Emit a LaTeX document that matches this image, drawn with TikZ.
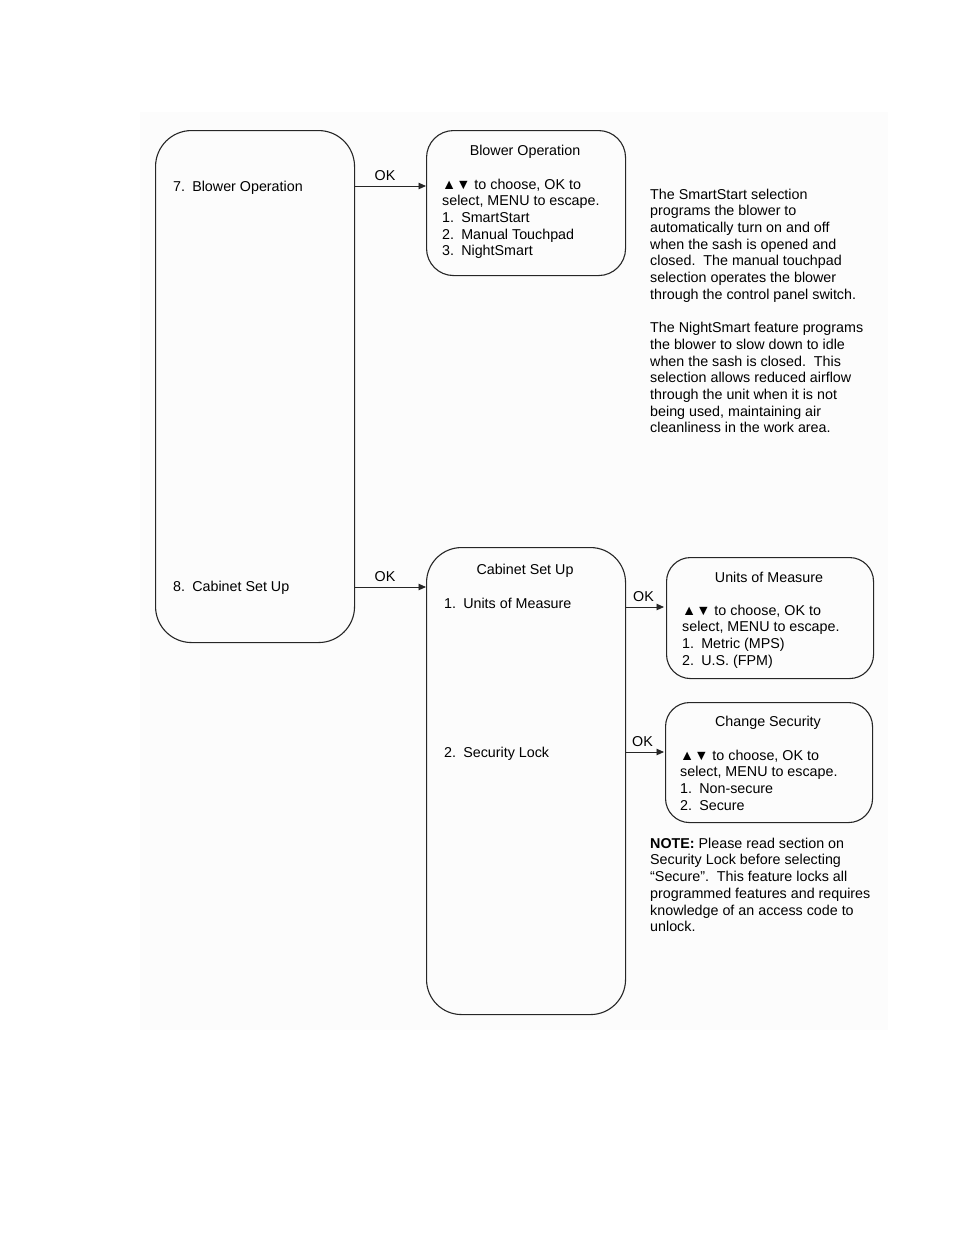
\documentclass[tikz,border=0pt]{standalone}
\usepackage{fontspec}
\setmainfont{Liberation Sans}
\usetikzlibrary{arrows.meta}
\newcommand\nsp{\hspace{0.5em}}
\begin{document}
\begin{tikzpicture}[x=1pt,y=-1pt,
  box/.style={draw=black!85, line width=1.1pt, rounded corners=#1, inner sep=0pt, anchor=north west},
  box/.default=22pt,
  txt/.style={font=\fontsize{14.3}{16.7}\selectfont, inner sep=0pt, align=left, anchor=north west},
  ttl/.style={font=\fontsize{14.3}{16.7}\selectfont, inner sep=0pt, anchor=base},
  arr/.style={-{Triangle[length=7.5pt,width=6.5pt]}, line width=0.9pt, draw=black!85},
  lbl/.style={font=\fontsize{14.3}{16.7}\selectfont, inner sep=0pt, above=5pt}]
\useasboundingbox (0,0) rectangle (954,1235);
\fill[black!1] (140,112) rectangle (888,1030);

% boxes
\node[box=36pt, minimum width=199pt, minimum height=512pt] (menu) at (155,130) {};
\node[box=27pt, minimum width=199pt, minimum height=145pt] (blower) at (426,130) {};
\node[box=35pt, minimum width=199pt, minimum height=467pt] (cabinet) at (426,547) {};
\node[box=24pt, minimum width=207pt, minimum height=121pt] (units) at (666,557) {};
\node[box=24pt, minimum width=207pt, minimum height=120pt] (security) at (665,702) {};

% texts in left box
\node[ttl, anchor=base west] (t7) at (173,191) {7.\nsp Blower Operation};
\node[ttl, anchor=base west] (t8) at (173,591) {8.\nsp Cabinet Set Up};

% blower box
\node[ttl] (blowtitle) at (525,155) {Blower Operation};
\node[txt] (blowtext) at (442,177.3) {\strut▲▼ to choose, OK to\\select, MENU to escape.\\1.\nsp SmartStart\\2.\nsp Manual Touchpad\\3.\nsp NightSmart};

% cabinet box
\node[ttl] (cabtitle) at (525,574) {Cabinet Set Up};
\node[ttl, anchor=base west] (cab1) at (444,608) {1.\nsp Units of Measure};
\node[ttl, anchor=base west] (cab2) at (444,757) {2.\nsp Security Lock};

% units box
\node[ttl] (unitstitle) at (769,582) {Units of Measure};
\node[txt] (unitstext) at (682,603.3) {\strut▲▼ to choose, OK to\\select, MENU to escape.\\1.\nsp Metric (MPS)\\2.\nsp U.S. (FPM)};

% security box
\node[ttl] (sectitle) at (768,726) {Change Security};
\node[txt] (sectext) at (680,748.3) {\strut▲▼ to choose, OK to\\select, MENU to escape.\\1.\nsp Non-secure\\2.\nsp Secure};

% explanatory texts
\node[txt] (expl) at (650,187.3) {\strut The SmartStart selection\\programs the blower to\\automatically turn on and off\\when the sash is opened and\\closed.\ \ The manual touchpad\\selection operates the blower\\through the control panel switch.\\[16.7pt]The NightSmart feature programs\\the blower to slow down to idle\\when the sash is closed.\ \ This\\selection allows reduced airflow\\through the unit when it is not\\being used, maintaining air\\cleanliness in the work area.};
\node[txt] (note) at (650,836.3) {\strut\textbf{NOTE:} Please read section on\\Security Lock before selecting\\“Secure”.\ \ This feature locks all\\programmed features and requires\\knowledge of an access code to\\unlock.};

% connectors
\coordinate (a1) at (354,186);
\coordinate (a2) at (354,587);
\coordinate (a3) at (625,607);
\coordinate (a4) at (625,752);
\draw[arr] (a1) -- (blower.west |- a1) node[lbl, midway, xshift=-5pt] (ok1) {OK};
\draw[arr] (a2) -- (cabinet.west |- a2) node[lbl, midway, xshift=-5pt] (ok2) {OK};
\draw[arr] (a3) -- ([xshift=-2pt]units.west |- a3) node[lbl, midway, xshift=-1pt] (ok3) {OK};
\draw[arr] (a4) -- ([xshift=-1pt]security.west |- a4) node[lbl, midway, xshift=-2pt] (ok4) {OK};
\end{tikzpicture}
\end{document}
